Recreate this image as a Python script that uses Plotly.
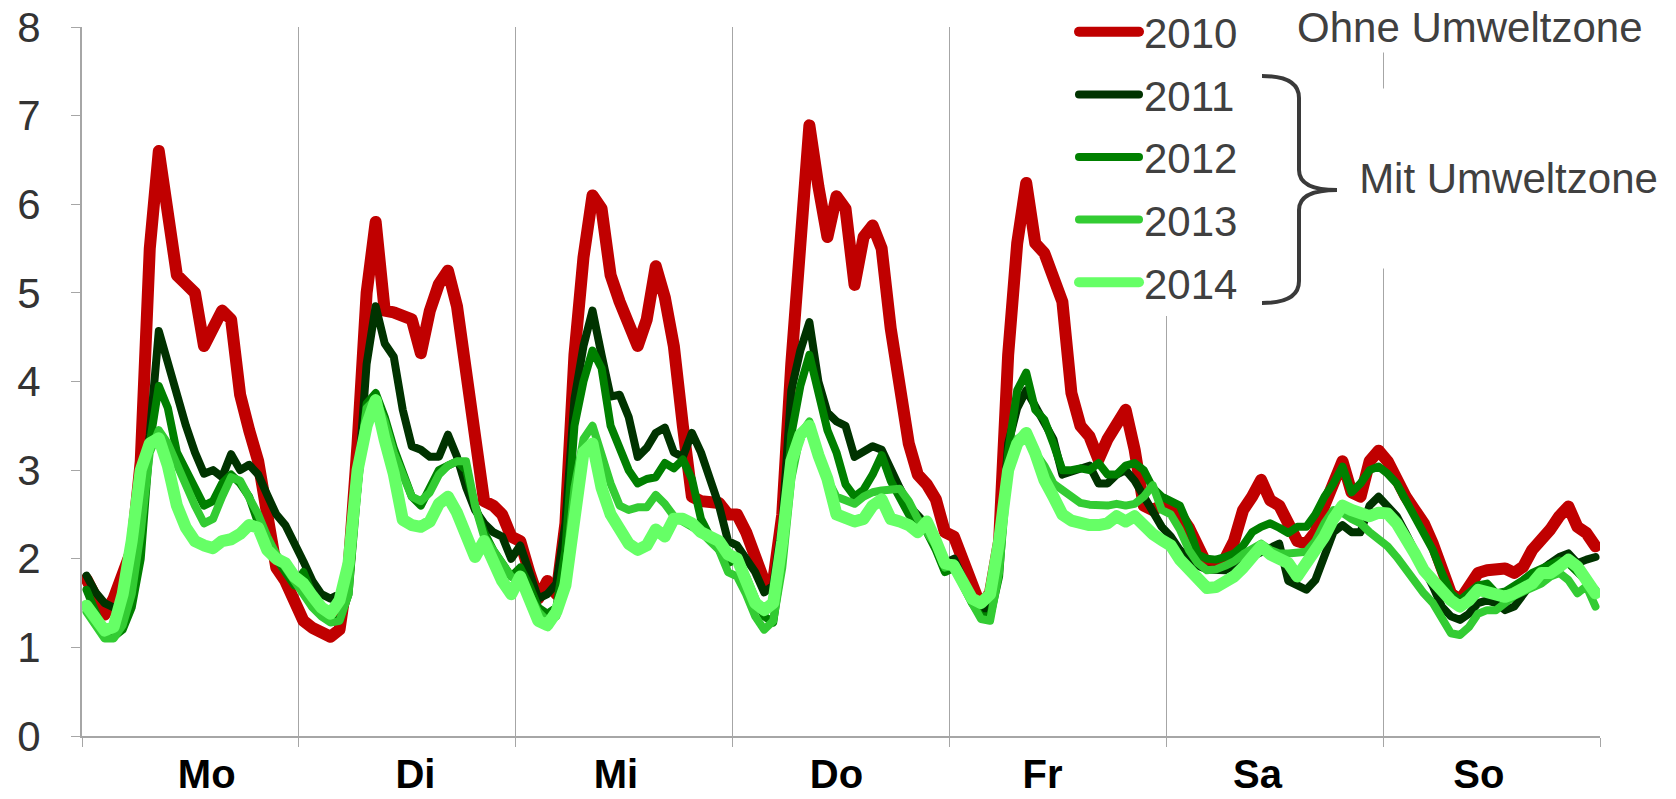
import plotly.graph_objects as go

# ---------------- data ----------------
days = ["Mo", "Di", "Mi", "Do", "Fr", "Sa", "So"]
years = ["2010", "2011", "2012", "2013", "2014"]

# hourly values, Monday 0h ... Sunday 23h (7 x 24)
y2010 = [
    1.77, 1.55, 1.37, 1.55, 1.8, 2.1, 3.1, 5.5, 6.6, 6.0, 5.2, 5.1, 5.0, 4.4, 4.6, 4.8, 4.7, 3.85, 3.45, 3.1, 2.5, 1.9, 1.75, 1.55,
    1.3, 1.22, 1.18, 1.12, 1.2, 1.9, 3.3, 5.0, 5.8, 4.8, 4.78, 4.75, 4.7, 4.32, 4.8, 5.1, 5.25, 4.85, 4.1, 3.2, 2.65, 2.6, 2.5, 2.25,
    2.2, 1.85, 1.55, 1.75, 1.6, 2.4, 4.3, 5.4, 6.1, 5.95, 5.2, 4.9, 4.65, 4.4, 4.7, 5.3, 4.95, 4.4, 3.5, 2.7, 2.65, 2.63, 2.63, 2.5,
    2.5, 2.3, 2.0, 1.75, 1.75, 2.5, 4.2, 5.6, 6.89, 6.2, 5.63, 6.09, 5.95, 5.09, 5.63, 5.76, 5.5, 4.6, 3.85, 3.3, 2.95, 2.84, 2.67, 2.3,
    2.25, 1.95, 1.68, 1.45, 1.62, 2.2, 4.3, 5.56, 6.24, 5.56, 5.45, 5.2, 4.9, 3.87, 3.5, 3.38, 3.12, 3.35, 3.55, 3.68, 3.23, 2.6, 2.55, 2.6,
    2.6, 2.5, 2.35, 2.1, 1.93, 1.95, 2.0, 2.2, 2.55, 2.7, 2.89, 2.66, 2.6, 2.4, 2.2, 2.17, 2.3, 2.6, 2.85, 3.1, 2.75, 2.7, 3.1, 3.22,
    3.1, 2.89, 2.7, 2.55, 2.4, 2.17, 1.84, 1.61, 1.53, 1.69, 1.84, 1.87, 1.87, 1.89, 1.84, 1.91, 2.1, 2.21, 2.33, 2.48, 2.59, 2.36, 2.29, 2.14,
]
y2011 = [
    1.81, 1.62, 1.5, 1.45, 1.5, 1.9, 2.6, 3.4, 4.57, 4.2, 3.8, 3.5, 3.2, 2.96, 3.0, 2.92, 3.18, 3.0, 3.06, 2.95, 2.72, 2.5, 2.38, 2.15,
    1.97, 1.75, 1.6, 1.55, 1.6, 1.85, 2.8, 4.2, 4.85, 4.43, 4.28, 3.68, 3.27, 3.23, 3.15, 3.15, 3.4, 3.15, 2.81, 2.55, 2.4, 2.3, 2.25, 2.0,
    2.15, 1.85, 1.55, 1.6, 1.72, 2.4, 3.8, 4.4, 4.8, 4.3, 3.83, 3.85, 3.6, 3.15, 3.25, 3.42, 3.48, 3.2, 3.15, 3.42, 3.2, 2.9, 2.6, 2.2,
    2.15, 2.0, 1.85, 1.62, 1.7, 2.4, 3.9, 4.35, 4.67, 4.0, 3.65, 3.55, 3.5, 3.15, 3.2, 3.27, 3.23, 3.0, 2.8, 2.6, 2.5, 2.38, 2.2, 1.95,
    2.0, 1.8, 1.55, 1.4, 1.45, 2.0, 3.3, 3.7, 3.9, 3.72, 3.55, 3.35, 2.95, 2.98, 3.0, 3.05, 2.85, 2.85, 2.95, 3.0, 2.88, 2.7, 2.55, 2.36,
    2.25, 2.1, 2.0, 1.92, 1.88, 1.87, 1.87, 1.93, 1.98, 2.03, 2.08, 2.14, 2.17, 1.75, 1.7, 1.65, 1.76, 2.05, 2.3, 2.38, 2.3, 2.3, 2.6, 2.7,
    2.59, 2.48, 2.29, 2.1, 1.87, 1.69, 1.46, 1.35, 1.31, 1.38, 1.5, 1.53, 1.5, 1.42, 1.46, 1.61, 1.76, 1.87, 1.95, 2.02, 2.06, 1.95, 1.99, 2.02,
]
y2012 = [
    1.65, 1.4, 1.15, 1.12, 1.2, 1.45, 2.0, 3.3, 3.95, 3.7, 3.2, 3.0, 2.8, 2.6, 2.65, 2.85, 2.95, 2.85, 2.7, 2.4, 2.2, 2.0, 1.85, 1.7,
    1.85, 1.6, 1.45, 1.32, 1.3, 1.6, 2.8, 3.75, 3.87, 3.6, 3.25, 3.0, 2.7, 2.6, 2.8, 3.0, 3.05, 3.1, 3.0, 2.6, 2.3, 2.1, 1.95, 1.8,
    1.9, 1.7, 1.45, 1.38, 1.45, 2.1, 3.5, 4.0, 4.35, 4.15, 3.5, 3.27, 3.0, 2.85, 2.9, 2.92, 3.08, 3.02, 3.12, 2.9, 2.45, 2.25, 2.1, 1.95,
    2.0, 1.8, 1.55, 1.35, 1.28, 2.0, 3.4, 3.95, 4.3, 3.85, 3.45, 3.2, 2.84, 2.7, 2.78, 2.95, 3.17, 2.88, 2.68, 2.5, 2.4, 2.3, 2.1, 1.85,
    1.9, 1.7, 1.5, 1.35, 1.35, 1.8, 3.2, 3.9, 4.1, 3.68, 3.57, 3.3, 3.0, 3.0, 3.02, 3.0, 3.08, 2.95, 2.95, 3.05, 3.08, 3.0, 2.8, 2.7,
    2.66, 2.6, 2.36, 2.05, 2.0, 1.99, 2.02, 2.06, 2.15, 2.3, 2.36, 2.4, 2.35, 2.29, 2.36, 2.36, 2.5, 2.7, 2.85, 3.04, 2.75, 2.85, 3.0, 3.04,
    2.96, 2.85, 2.66, 2.48, 2.29, 2.1, 1.84, 1.61, 1.53, 1.61, 1.7, 1.72, 1.61, 1.63, 1.69, 1.76, 1.84, 1.88, 1.92, 1.98, 1.95, 1.85, 1.75, 1.65,
]
y2013 = [
    1.4, 1.25, 1.1, 1.1, 1.25, 1.6, 2.3, 3.2, 3.45, 3.3, 3.05, 2.85, 2.6, 2.4, 2.45, 2.7, 2.92, 2.88, 2.7, 2.5, 2.25, 2.05, 1.9, 1.75,
    1.6, 1.45, 1.35, 1.28, 1.3, 1.6, 2.9, 3.7, 3.8, 3.55, 3.2, 2.95, 2.7, 2.65, 2.75, 2.95, 3.05, 3.1, 3.1, 2.6, 2.25, 2.1, 1.95, 1.8,
    1.75, 1.6, 1.4, 1.3, 1.35, 1.8, 2.8, 3.35, 3.5, 3.15, 2.85, 2.6, 2.55, 2.58, 2.58, 2.72, 2.62, 2.48, 2.42, 2.35, 2.3, 2.2, 2.1, 1.85,
    1.8, 1.6, 1.35, 1.2, 1.3, 1.9, 2.9, 3.4, 3.55, 3.2, 2.9, 2.7, 2.65, 2.62, 2.7, 2.75, 2.77, 2.78, 2.79, 2.65, 2.45, 2.3, 2.15, 1.9,
    1.95, 1.75, 1.5, 1.32, 1.3, 1.85, 3.0, 3.35, 3.42, 3.2, 3.05, 2.85, 2.78, 2.7, 2.63, 2.61, 2.6, 2.6, 2.62, 2.6, 2.62, 2.7, 2.83, 2.55,
    2.5, 2.33, 2.1, 1.95, 1.87, 1.88, 1.92, 1.97, 2.05, 2.12, 2.17, 2.1, 2.06, 2.06, 2.06, 2.08, 2.2, 2.4, 2.55, 2.52, 2.45, 2.4, 2.3, 2.22,
    2.14, 2.02, 1.87, 1.72, 1.61, 1.5, 1.31, 1.16, 1.14, 1.23, 1.38, 1.42, 1.42, 1.5, 1.58, 1.63, 1.67, 1.72, 1.8, 1.84, 1.76, 1.61, 1.69, 1.46,
]
y2014 = [
    1.47, 1.31, 1.19, 1.23, 1.6, 2.2, 3.0, 3.3, 3.36, 3.05, 2.6, 2.35, 2.2, 2.15, 2.12, 2.2, 2.22, 2.28, 2.38, 2.35, 2.1, 2.0, 1.95, 1.8,
    1.72, 1.58, 1.45, 1.38, 1.53, 1.95, 3.0, 3.5, 3.79, 3.34, 2.96, 2.44, 2.38, 2.36, 2.42, 2.62, 2.7, 2.52, 2.25, 2.02, 2.2, 1.95, 1.75, 1.6,
    1.8, 1.55, 1.3, 1.25, 1.4, 1.7, 2.6, 3.2, 3.3, 2.8, 2.5, 2.3, 2.17, 2.1, 2.15, 2.33, 2.25, 2.45, 2.45, 2.4, 2.3, 2.25, 2.2, 2.05,
    2.0, 1.75, 1.5, 1.42, 1.5, 2.2, 3.1, 3.4, 3.5, 3.17, 2.9, 2.5, 2.45, 2.42, 2.45, 2.6, 2.67, 2.45, 2.42, 2.38, 2.3, 2.42, 2.2, 1.95,
    1.92, 1.7, 1.55, 1.5, 1.6, 2.2, 3.0, 3.3, 3.42, 3.19, 2.89, 2.7, 2.5, 2.43, 2.4, 2.38, 2.38, 2.4, 2.48, 2.42, 2.48, 2.36, 2.28, 2.21,
    2.15, 1.99, 1.88, 1.75, 1.67, 1.68, 1.73, 1.8, 1.9, 2.05, 2.14, 2.05, 2.0, 1.95, 1.8, 1.95, 2.05, 2.25, 2.45, 2.6, 2.55, 2.5, 2.48, 2.52,
    2.51, 2.4, 2.25, 2.06, 1.87, 1.74, 1.65, 1.53, 1.46, 1.53, 1.65, 1.63, 1.61, 1.57, 1.61, 1.65, 1.72, 1.84, 1.84, 1.91, 1.99, 1.91, 1.76, 1.61,
]

series = [y2010, y2011, y2012, y2013, y2014]
colors = ["#C00000", "#003300", "#008000", "#33CC33", "#66FF66"]
widths = [12, 8, 8, 8, 12]

hours = list(range(len(y2010)))

# where the day names sit along the hour axis (as placed in the original)
day_label_pos = [13.3, 36.4, 58.6, 83.0, 105.8, 129.6, 154.1]

# ---------------- figure ----------------
W, H = 1676, 799
ML, MR, MT, MB = 82, 76, 27, 63
PW, PH = W - ML - MR, H - MT - MB


def px(X):
    return (X - ML) / PW


def py(Y):
    return (H - MB - Y) / PH


fig = go.Figure()
for name, vals, col, wd in zip(years, series, colors, widths):
    fig.add_trace(go.Scatter(
        x=hours, y=vals, mode="lines", name=name, legendgroup=name,
        line=dict(color=col, width=wd),
    ))

grey = "#A6A6A6"
txt = "#404040"
font_family = "Arial, 'Liberation Sans', sans-serif"

fig.update_layout(
    width=W, height=H,
    margin=dict(l=ML, r=MR, t=MT, b=MB, pad=0, autoexpand=False),
    paper_bgcolor="white", plot_bgcolor="white",
    font=dict(family=font_family, size=42, color=txt),
    showlegend=True,
    legend=dict(
        x=px(1074), y=py(-2), xanchor="left", yanchor="top",
        bgcolor="white", borderwidth=0,
        font=dict(family=font_family, size=42, color=txt),
        tracegroupgap=5, itemwidth=60,
    ),
)

fig.update_xaxes(
    range=[-0.5, len(hours) - 0.5],
    tickmode="array",
    tickvals=day_label_pos,
    ticktext=days,
    ticks="",
    tickfont=dict(family=font_family, size=40, color="black", weight="bold"),
    showgrid=False, zeroline=False,
    showline=True, linecolor=grey, linewidth=2,
    minor=dict(
        tickmode="array",
        tickvals=[24 * i - 0.5 for i in range(len(days) + 1)],
        ticks="outside", ticklen=9, tickcolor=grey, tickwidth=1,
        showgrid=True, gridcolor=grey, gridwidth=1,
    ),
    ticklabelstandoff=2,
)

fig.update_yaxes(
    range=[0, 8], tick0=0, dtick=1,
    ticks="outside", ticklen=9, tickcolor=grey, tickwidth=1,
    showline=True, linecolor=grey, linewidth=2,
    showgrid=False, zeroline=False,
    tickfont=dict(family=font_family, size=42, color="#333333"),
    ticklabelstandoff=22,
)

# brace grouping the years with a low emission zone
bx0, bxm, bxt = 1262, 1299, 1337
by0, bym, by1 = 76, 190, 303
brace = (
    f"M {px(bx0)},{py(by0)} Q {px(bxm)},{py(by0)} {px(bxm)},{py(by0 + 22)} "
    f"L {px(bxm)},{py(bym - 20)} Q {px(bxm)},{py(bym)} {px(bxt)},{py(bym)} "
    f"Q {px(bxm)},{py(bym)} {px(bxm)},{py(bym + 20)} "
    f"L {px(bxm)},{py(by1 - 22)} Q {px(bxm)},{py(by1)} {px(bx0)},{py(by1)}"
)
fig.add_shape(type="path", path=brace, xref="paper", yref="paper",
              line=dict(color="#3A3A3A", width=4), layer="above")

fig.add_annotation(
    x=px(1470), y=py(27), xref="paper", yref="paper",
    text="Ohne Umweltzone", showarrow=False, xanchor="center", yanchor="middle",
    font=dict(family=font_family, size=42, color=txt), bgcolor="white",
)
fig.add_annotation(
    x=px(1508), y=py(178), xref="paper", yref="paper",
    text="Mit Umweltzone", showarrow=False, xanchor="center", yanchor="middle",
    font=dict(family=font_family, size=42, color=txt), bgcolor="white",
    width=325, height=177,
)

fig.write_html(
    "out.html",
    config={"displayModeBar": False},
    post_script=(
        "document.body.style.margin='0';document.body.style.padding='0';"
        "document.querySelectorAll('.js-line').forEach(function(e){"
        "e.style.strokeLinejoin='round';e.style.strokeLinecap='round';});"
    ),
)
